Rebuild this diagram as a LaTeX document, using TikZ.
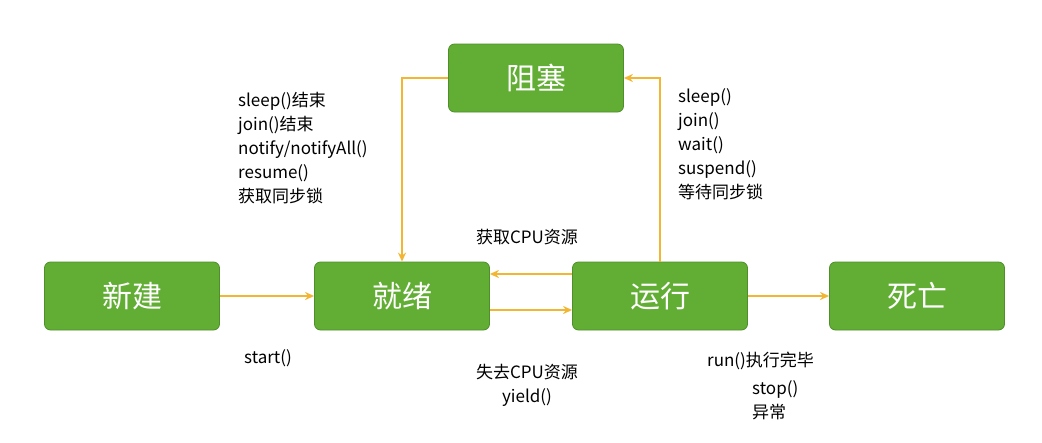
\documentclass[tikz,border=0pt]{standalone}
\usepackage{fontspec}
\setmainfont{Liberation Sans}
\newfontfamily\cjk{Noto Sans CJK SC}
\usetikzlibrary{positioning,arrows.meta}
\definecolor{boxgreen}{HTML}{62AE35}
\definecolor{boxedge}{HTML}{4E8F2A}
\definecolor{arrowyel}{HTML}{F2B632}
\begin{document}
\begin{tikzpicture}[x=1pt, y=-1pt,
    state/.style={rectangle, rounded corners=6pt, draw=boxedge, thick, fill=boxgreen,
        minimum width=175pt, minimum height=68pt, text=white, font=\cjk\fontsize{30}{32}\selectfont},
    flow/.style={arrowyel, line width=2pt, -{Stealth[length=9pt,width=8pt]}},
    note/.style={font=\cjk\fontsize{17}{24}\selectfont, align=left, inner sep=0pt}
]
    \useasboundingbox[fill=white] (0,0) rectangle (1042,442);
    \node[state] (new) at (132,296) {新建};
    \node[state] (ready) at (402,296) {就绪};
    \node[state] (run) at (660,296) {运行};
    \node[state] (dead) at (917,296) {死亡};
    \node[state] (block) at (536,78) {阻塞};
    \draw[flow] (new) -- (ready);
    \draw[flow] ([yshift=-14pt]ready.east) -- ([yshift=-14pt]run.west);
    \draw[flow] ([yshift=22pt]run.west) -- ([yshift=22pt]ready.east);
    \draw[flow] (run) -- (dead);
    \draw[flow] (run.north) |- (block.east);
    \draw[flow] (block.west) -| (ready.north);
    \node[note, anchor=north west] (inblk) at (238,92)
        {sleep()结束\\join()结束\\notify/notifyAll()\\resume()\\获取同步锁};
    \node[note, anchor=north west] (outblk) at (678,88)
        {sleep()\\join()\\wait()\\suspend()\\等待同步锁};
    \node[note] (getcpu) at (527,237) {获取CPU资源};
    \node[note] (start) at (268,358) {start()};
    \node[note, align=center] (losecpu) at (527,385) {失去CPU资源\\yield()};
    \node[note, anchor=north west] (finish) at (707,352) {run()执行完毕};
    \node[note, anchor=north west] (stop) at (752,380) {stop()\\异常};
\end{tikzpicture}
\end{document}
